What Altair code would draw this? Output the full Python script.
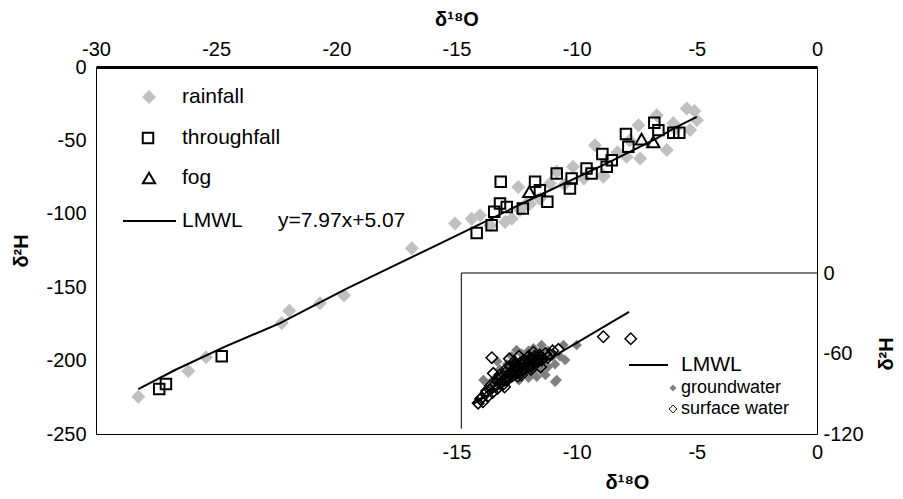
import altair as alt
import pandas as pd

# ---------------- data ----------------
rain_x = [-28.24, -26.16, -25.42, -22.27, -21.96, -20.68, -19.68, -16.86,
          -15.06, -14.37, -14.02, -13.6, -12.98, -12.7, -12.36, -12.43, -12.08,
          -11.94, -11.53, -11.11, -10.83, -10.5, -10.15, -9.7, -9.24, -8.89,
          -8.89, -8.3, -7.92, -7.8, -7.43, -7.36, -6.67, -6.25, -5.98, -5.9,
          -5.42, -5.28, -5.1, -5.0]
rain_y = [-224.7, -207.0, -197.8, -174.4, -166.0, -161.0, -155.7, -123.4,
          -106.6, -103.4, -101.0, -107.9, -105.6, -103.4, -97.6, -81.7, -93.0,
          -93.1, -89.7, -79.4, -71.4, -80.0, -68.0, -76.0, -53.3, -74.8,
          -73.7, -58.0, -61.2, -50.0, -39.6, -62.3, -32.8, -56.6, -38.4, -42.0,
          -28.2, -43.0, -30.0, -36.2]

thr_x = [-27.37, -27.09, -24.77, -14.16, -13.54, -13.16, -13.43, -13.19, -12.91,
         -12.24, -11.73, -11.53, -11.22, -10.83, -10.28, -10.21, -9.59, -9.38,
         -8.93, -8.75, -8.54, -7.95, -7.85, -6.77, -6.6, -5.98, -5.73]
thr_y = [-219.4, -216.0, -197.0, -113.0, -107.8, -78.2, -98.6, -93.0, -95.3,
         -96.4, -78.2, -84.0, -91.8, -72.5, -82.8, -76.0, -69.2, -72.5,
         -59.3, -68.0, -63.5, -45.7, -54.4, -38.0, -43.0, -44.8, -44.8]

fog_x = [-11.97, -7.3, -6.81]
fog_y = [-85.0, -49.1, -51.0]

lmwl_x = [-28.24, -26.71, -24.63, -22.34, -19.57, -15.69, -14.3, -11.53, -8.75, -6.67, -5.98, -5.0]
lmwl_y = [-219.5, -206.4, -190.5, -174.5, -150.9, -120.3, -109.2, -87.2, -65.6, -48.6, -42.0, -34.0]

# inset
gw_x = [-13.88, -13.47, -13.2, -12.9, -12.5, -12.7, -12.3, -12.0, -11.8, -11.46,
        -11.2, -11.0, -10.55, -10.0, -10.48, -10.9, -10.83, -11.3, -11.66, -12.0,
        -12.4, -12.8, -13.0, -12.2, -11.5, -11.2, -10.9, -11.7, -12.1, -11.4,
        -13.6, -12.6, -11.9, -10.7, -13.3, -12.55, -11.85]
gw_y = [-79.8, -79.8, -72.0, -68.0, -57.4, -62.0, -60.0, -58.0, -56.0, -53.7,
        -58.0, -62.0, -53.7, -53.7, -64.8, -81.0, -79.8, -76.0, -77.3, -78.0,
        -80.0, -79.0, -74.0, -74.0, -72.0, -70.0, -68.0, -68.0, -64.0, -60.0,
        -83.0, -70.0, -62.0, -62.0, -66.0, -76.0, -73.0]

sw_x = [-14.1, -13.95, -13.9, -14.0, -13.7, -13.8, -13.5, -13.6, -13.3, -13.4,
        -13.2, -13.0, -13.1, -12.9, -12.8, -12.7, -12.6, -12.5, -12.4, -12.3,
        -12.2, -12.1, -12.0, -11.9, -11.8, -11.7, -11.6, -11.5, -11.4, -11.3,
        -11.2, -11.1, -12.6, -12.9, -13.2, -12.3, -11.9, -11.5, -12.8, -13.47,
        -13.53, -10.76, -8.89, -7.75, -13.0, -12.4, -11.0,
        -13.1, -12.95, -12.85, -12.75, -12.65, -12.55, -12.45, -12.35, -12.25,
        -12.15, -12.05, -11.95, -11.85, -11.75, -11.65, -11.55, -11.45,
        -12.9, -12.7, -12.5, -12.3, -12.1, -11.9, -11.7, -12.6, -12.2, -12.0,
        -13.3, -13.05, -12.45, -11.8, -13.6, -13.75]
sw_y = [-97.0, -93.0, -96.0, -94.0, -92.0, -90.0, -89.0, -87.0, -86.0, -83.0,
        -82.0, -80.0, -78.0, -77.0, -75.0, -73.0, -72.0, -74.0, -70.0, -68.0,
        -71.0, -66.0, -69.0, -65.0, -67.0, -63.0, -66.0, -62.0, -64.0, -60.0,
        -63.0, -61.0, -66.0, -71.0, -76.0, -76.0, -72.0, -70.0, -64.0, -74.8,
        -63.1, -56.9, -47.5, -49.0, -85.0, -62.0, -58.0,
        -81.0, -74.0, -78.0, -70.0, -75.0, -69.0, -73.0, -67.0, -72.0,
        -66.0, -70.0, -64.0, -68.0, -62.0, -66.0, -61.0, -65.0,
        -80.0, -77.0, -71.0, -74.0, -68.0, -70.0, -65.0, -68.0, -65.0, -62.0,
        -79.0, -83.0, -77.0, -59.0, -84.0, -88.0]

inset_lmwl_x = [-14.31, -7.82]
inset_lmwl_y = [-97.6, -29.0]

x_top_ticks = [-30, -25, -20, -15, -10, -5, 0]
y_left_ticks = [0, -50, -100, -150, -200, -250]
inset_x_ticks = [-15, -10, -5, 0]
inset_y_ticks = [0, -60, -120]

FONT = "Liberation Sans"
W, H = 721, 367

# ---------------- scales & axes ----------------
xs_main = alt.Scale(domain=[-30, 0], nice=False, zero=False)
ys_main = alt.Scale(domain=[-250, 0], nice=False, zero=False)
xs_in = alt.Scale(domain=[-15, 0], range=[360.5, W], nice=False, zero=False)
ys_in = alt.Scale(domain=[-120, 0], range=[H, 206], nice=False, zero=False)

lab = "'' + datum.value"
ax_top = alt.Axis(orient="top", values=x_top_ticks, title="δ¹⁸O", labelExpr=lab,
                  ticks=False, grid=False, domainWidth=3, domainColor="black",
                  labelPadding=8, titlePadding=10, labelFlush=False)
ax_left = alt.Axis(orient="left", values=y_left_ticks, title="δ²H", labelExpr=lab,
                   ticks=False, grid=False, domain=False, labelPadding=10,
                   titlePadding=14, labelFlush=False)
ax_bot = alt.Axis(orient="bottom", values=inset_x_ticks, title="δ¹⁸O", labelExpr=lab,
                  ticks=False, grid=False, domain=False, labelPadding=8,
                  titlePadding=10, labelFlush=False, titleX=531)
ax_right = alt.Axis(orient="right", values=inset_y_ticks, title="δ²H", labelExpr=lab,
                    ticks=False, grid=False, domain=False, labelPadding=6,
                    titlePadding=33, titleAngle=270, labelFlush=False)

def mx():
    return alt.X("x:Q", scale=xs_main, axis=ax_top)

def my():
    return alt.Y("y:Q", scale=ys_main, axis=ax_left)

def ix():
    return alt.X("x:Q", scale=xs_in, axis=ax_bot)

def iy():
    return alt.Y("y:Q", scale=ys_in, axis=ax_right)

rain_df = pd.DataFrame({"x": rain_x, "y": rain_y})
thr_df = pd.DataFrame({"x": thr_x, "y": thr_y})
fog_df = pd.DataFrame({"x": fog_x, "y": fog_y})
lmwl_df = pd.DataFrame({"x": lmwl_x, "y": lmwl_y, "o": list(range(len(lmwl_x)))})
gw_df = pd.DataFrame({"x": gw_x, "y": gw_y})
sw_df = pd.DataFrame({"x": sw_x, "y": sw_y})
ilm_df = pd.DataFrame({"x": inset_lmwl_x, "y": inset_lmwl_y})

rain = alt.Chart(rain_df).mark_point(shape="diamond", filled=True, color="#c0c0c0",
                                     size=196, opacity=1).encode(x=mx(), y=my())
thr = alt.Chart(thr_df).mark_point(shape="square", filled=False, stroke="black",
                                   strokeWidth=2, size=110, opacity=1).encode(x=mx(), y=my())
fog = alt.Chart(fog_df).mark_point(shape="triangle-up", filled=False, stroke="black",
                                   strokeWidth=2, size=150, opacity=1).encode(x=mx(), y=my())
lmwl = alt.Chart(lmwl_df).mark_line(color="black", strokeWidth=2).encode(
    x=mx(), y=my(), order="o:Q")
main = alt.layer(rain, thr, fog, lmwl)

# inset
box_df = pd.DataFrame({"x": [-14.8, -14.8], "x2": [0, -14.8], "y": [0, 0], "y2": [0, -116]})
box = alt.Chart(box_df).mark_rule(color="black", strokeWidth=1).encode(
    x=ix(), x2="x2:Q", y=iy(), y2="y2:Q")
gw = alt.Chart(gw_df).mark_point(shape="diamond", filled=True, color="#808080",
                                 size=110, opacity=1).encode(x=ix(), y=iy())
sw = alt.Chart(sw_df).mark_point(shape="diamond", filled=False, stroke="black",
                                 strokeWidth=1.5, size=130, opacity=1).encode(x=ix(), y=iy())
ilm = alt.Chart(ilm_df).mark_line(color="black", strokeWidth=2).encode(x=ix(), y=iy())
inset = alt.layer(box, gw, sw, ilm)

# ---------------- legends ----------------
one = pd.DataFrame({"a": [0]})

def sym(shape, x, y, size, filled, color, sw=2):
    if filled:
        m = alt.Chart(one).mark_point(shape=shape, filled=True, color=color, size=size, opacity=1)
    else:
        m = alt.Chart(one).mark_point(shape=shape, filled=False, stroke=color,
                                      strokeWidth=sw, size=size, opacity=1)
    return m.encode(x=alt.value(x), y=alt.value(y))

def txt(s, x, y, fs):
    return alt.Chart(one).mark_text(text=s, align="left", baseline="middle", font=FONT,
                                    fontSize=fs, color="black").encode(
        x=alt.value(x), y=alt.value(y))

def hline(x1, x2, y, w=2):
    return alt.Chart(one).mark_rule(color="black", strokeWidth=w).encode(
        x=alt.value(x1), x2=alt.value(x2), y=alt.value(y))

legend = alt.layer(
    sym("diamond", 53, 30, 196, True, "#c0c0c0"),
    txt("rainfall", 86, 30, 21),
    sym("square", 52, 71, 110, False, "black"),
    txt("throughfall", 86, 71, 21),
    sym("triangle-up", 53, 111, 150, False, "black"),
    txt("fog", 86, 111, 21),
    hline(27, 80, 154),
    txt("LMWL", 86, 154, 21),
    txt("y=7.97x+5.07", 182, 154, 21),
    hline(533, 572, 298),
    txt("LMWL", 585, 298, 21),
    sym("diamond", 577, 321, 50, True, "#808080"),
    txt("groundwater", 585, 321, 18),
    sym("diamond", 577, 342, 60, False, "black", 1),
    txt("surface water", 585, 342, 18),
)

chart = alt.layer(main, inset, legend).resolve_scale(
    x="independent", y="independent"
).properties(
    width=W, height=H,
    autosize=alt.AutoSizeParams(type="none"),
    padding={"left": 96, "top": 67, "right": 86, "bottom": 65},
    background="white",
).configure_view(
    stroke="black", strokeWidth=1
).configure_axis(
    labelFont=FONT, titleFont=FONT, labelFontSize=20, titleFontSize=20,
    titleFontWeight="bold", labelColor="black", titleColor="black",
)

chart.save("out.html", embed_options={"renderer": "svg", "actions": False})
